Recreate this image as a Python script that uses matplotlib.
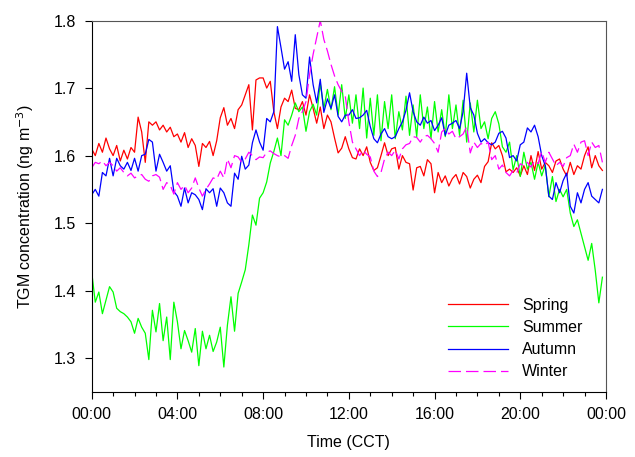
import matplotlib
matplotlib.use("Agg")
import matplotlib.pyplot as plt
import numpy as np

plt.rcParams['font.family'] = ['Liberation Sans', 'DejaVu Sans']

# 10-min resolution diurnal means, 00:00 .. 23:50 (6 values per hour)
spring = [
    1.610, 1.600, 1.618, 1.605, 1.626, 1.610,
    1.600, 1.615, 1.592, 1.608, 1.595, 1.612,
    1.605, 1.657, 1.635, 1.590, 1.650, 1.645,
    1.650, 1.638, 1.645, 1.635, 1.642, 1.628,
    1.632, 1.620, 1.634, 1.612, 1.625, 1.615,
    1.584, 1.618, 1.612, 1.621, 1.600, 1.622,
    1.656, 1.671, 1.645, 1.655, 1.640, 1.668,
    1.675, 1.690, 1.705, 1.638, 1.712, 1.715,
    1.715, 1.700, 1.710, 1.665, 1.640, 1.672,
    1.685, 1.680, 1.697, 1.670, 1.668, 1.680,
    1.660, 1.690, 1.670, 1.648, 1.672, 1.640,
    1.660, 1.650, 1.626, 1.604, 1.611, 1.628,
    1.610, 1.597, 1.595, 1.610, 1.600, 1.613,
    1.590, 1.578, 1.582, 1.600, 1.619, 1.600,
    1.610, 1.612, 1.580, 1.600, 1.590, 1.588,
    1.549, 1.582, 1.584, 1.570, 1.594, 1.588,
    1.545, 1.575, 1.560, 1.570, 1.555, 1.566,
    1.572, 1.558, 1.575, 1.569, 1.552, 1.565,
    1.571, 1.560, 1.584, 1.591, 1.619, 1.610,
    1.615, 1.600, 1.576, 1.580, 1.575, 1.582,
    1.570, 1.585, 1.572, 1.600, 1.578, 1.606,
    1.580, 1.590, 1.585, 1.575, 1.592, 1.595,
    1.580, 1.570, 1.590, 1.572, 1.585, 1.580,
    1.600, 1.613, 1.582, 1.600, 1.585, 1.578,
]

summer = [
    1.428, 1.383, 1.398, 1.366, 1.386, 1.406,
    1.398, 1.374, 1.369, 1.366, 1.361, 1.354,
    1.337, 1.359, 1.346, 1.337, 1.298, 1.371,
    1.339, 1.381, 1.326, 1.361, 1.298, 1.383,
    1.354, 1.314, 1.341, 1.326, 1.309, 1.344,
    1.289, 1.340, 1.314, 1.334, 1.310, 1.324,
    1.346, 1.287, 1.349, 1.391, 1.340, 1.396,
    1.413, 1.431, 1.468, 1.512, 1.497, 1.537,
    1.545, 1.561, 1.589, 1.606, 1.626, 1.600,
    1.653, 1.645, 1.660, 1.678, 1.665, 1.672,
    1.636, 1.665, 1.676, 1.660, 1.707, 1.670,
    1.698, 1.668, 1.702, 1.660, 1.705, 1.655,
    1.690, 1.648, 1.690, 1.640, 1.700, 1.626,
    1.685, 1.630, 1.690, 1.622, 1.680, 1.640,
    1.690, 1.625, 1.665, 1.638, 1.688, 1.630,
    1.675, 1.628, 1.690, 1.640, 1.672, 1.625,
    1.680, 1.635, 1.668, 1.628, 1.690, 1.640,
    1.675, 1.630, 1.682, 1.620, 1.678, 1.635,
    1.682, 1.640, 1.650, 1.625, 1.655, 1.665,
    1.647, 1.613, 1.605, 1.620, 1.579, 1.600,
    1.569, 1.605, 1.580, 1.590, 1.565, 1.590,
    1.570, 1.586, 1.539, 1.569, 1.532, 1.550,
    1.539, 1.550, 1.515, 1.495, 1.505, 1.485,
    1.465, 1.445, 1.470, 1.430, 1.382, 1.420,
]

autumn = [
    1.542, 1.550, 1.540, 1.575, 1.570, 1.596,
    1.570, 1.596, 1.585, 1.580, 1.590, 1.578,
    1.596, 1.577, 1.600, 1.602, 1.624, 1.620,
    1.577, 1.602, 1.590, 1.577, 1.585, 1.547,
    1.540, 1.525, 1.552, 1.530, 1.545, 1.542,
    1.535, 1.520, 1.551, 1.545, 1.551, 1.525,
    1.552, 1.545, 1.530, 1.525, 1.574, 1.565,
    1.599, 1.580, 1.586, 1.619, 1.638, 1.620,
    1.608, 1.655, 1.650, 1.665, 1.791, 1.760,
    1.728, 1.739, 1.710, 1.779, 1.720, 1.690,
    1.685, 1.746, 1.705, 1.678, 1.713, 1.664,
    1.684, 1.670, 1.690, 1.658, 1.650, 1.660,
    1.660, 1.668, 1.655, 1.656, 1.660, 1.667,
    1.643, 1.625, 1.619, 1.632, 1.640, 1.628,
    1.625, 1.628, 1.640, 1.650, 1.667, 1.693,
    1.665, 1.650, 1.645, 1.657, 1.648, 1.652,
    1.637, 1.645, 1.656, 1.630, 1.645, 1.648,
    1.652, 1.640, 1.665, 1.722, 1.671, 1.660,
    1.633, 1.620, 1.625, 1.619, 1.616, 1.620,
    1.633, 1.636, 1.626, 1.597, 1.600, 1.592,
    1.616, 1.620, 1.641, 1.635, 1.645, 1.628,
    1.600, 1.585, 1.540, 1.535, 1.560, 1.545,
    1.563, 1.574, 1.525, 1.515, 1.545, 1.530,
    1.550, 1.560, 1.540, 1.535, 1.530, 1.550,
]

winter = [
    1.582, 1.590, 1.588, 1.592, 1.585, 1.590,
    1.585, 1.577, 1.582, 1.575, 1.570, 1.574,
    1.567, 1.570, 1.572, 1.565, 1.562, 1.570,
    1.572, 1.568, 1.550, 1.560, 1.556, 1.543,
    1.560, 1.550, 1.556, 1.545, 1.552, 1.567,
    1.552, 1.540, 1.550, 1.558, 1.567, 1.565,
    1.577, 1.567, 1.595, 1.582, 1.600, 1.598,
    1.590, 1.595, 1.605, 1.600, 1.594, 1.598,
    1.597, 1.605, 1.607, 1.603, 1.600, 1.598,
    1.600, 1.596, 1.615, 1.630, 1.655, 1.665,
    1.680, 1.720, 1.750, 1.775, 1.800, 1.772,
    1.755, 1.735, 1.718, 1.705, 1.695, 1.688,
    1.650, 1.620, 1.610, 1.600, 1.608, 1.602,
    1.598, 1.577, 1.569, 1.575, 1.595, 1.605,
    1.600, 1.608, 1.595, 1.610, 1.616, 1.618,
    1.628, 1.627, 1.620, 1.628, 1.630, 1.625,
    1.618, 1.605, 1.635, 1.640, 1.632, 1.636,
    1.625, 1.628, 1.632, 1.643, 1.604, 1.620,
    1.612, 1.618, 1.615, 1.620, 1.594, 1.600,
    1.580, 1.586, 1.575, 1.570, 1.578, 1.574,
    1.588, 1.585, 1.590, 1.583, 1.592, 1.588,
    1.606, 1.590, 1.605, 1.595, 1.585, 1.590,
    1.584, 1.597, 1.600, 1.617, 1.605, 1.620,
    1.622, 1.600, 1.620, 1.612, 1.615, 1.590,
]

hours = np.arange(len(spring)) / 6.0
tick_hours = [0, 4, 8, 12, 16, 20, 24]
tick_labels = ['00:00', '04:00', '08:00', '12:00', '16:00', '20:00', '00:00']

fig = plt.figure(figsize=(6.35, 4.57), dpi=100)
ax = fig.add_axes([0.1444, 0.1422, 0.8099, 0.8129])

ax.plot(hours, spring, color='#ff0000', lw=0.9, label='Spring')
ax.plot(hours, summer, color='#00ff00', lw=0.9, label='Summer')
ax.plot(hours, autumn, color='#0000ff', lw=0.9, label='Autumn')
ax.plot(hours, winter, color='#ff00ff', lw=0.9, dashes=(10, 4), label='Winter')

ax.set_xlim(0, 24)
ax.set_ylim(1.25, 1.8)
ax.set_xticks(tick_hours)
ax.set_xticklabels(tick_labels)
ax.set_xticks(np.arange(0, 25, 1), minor=True)
ax.set_yticks([1.3, 1.4, 1.5, 1.6, 1.7, 1.8])
ax.tick_params(axis='both', which='major', direction='out', length=5,
               width=0.8, labelsize=11.5, pad=6)
ax.tick_params(axis='x', which='minor', direction='out', length=3, width=0.8)
ax.tick_params(top=False, right=False)
for s in ['top', 'right']:
    ax.spines[s].set_color('#555555')

ax.set_xlabel('Time (CCT)', fontsize=11.5, labelpad=9)
ax.set_ylabel('TGM concentration (ng m$^{-3}$)', fontsize=11.5, labelpad=13)

ax.legend(loc='lower left', bbox_to_anchor=(0.665, -0.004), frameon=False,
          fontsize=11.5, handlelength=3.75, handletextpad=0.875, labelspacing=0.44)

fig.savefig('out.png', dpi=100)
